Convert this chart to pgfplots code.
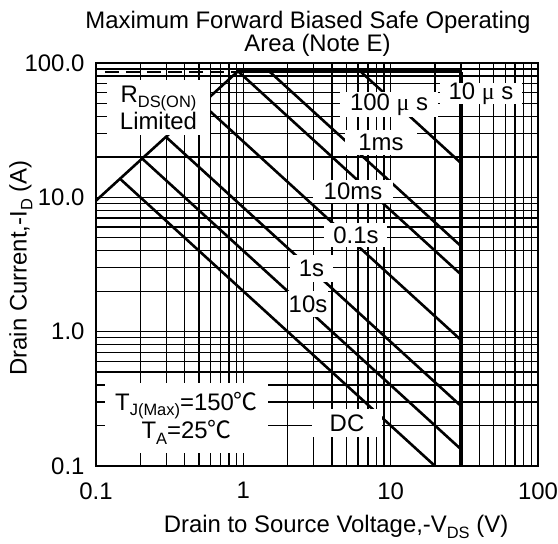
\documentclass[border=0pt]{standalone}
\usepackage{fontspec}
\setmainfont{Liberation Sans}
\newfontfamily\cjk{Noto Sans CJK SC}
\newfontfamily\muf{Liberation Serif}
\usepackage{pgfplots}
\pgfplotsset{compat=1.18}
\newcommand\lf{\fontsize{24}{27}\selectfont}
\newcommand\sub[1]{\raisebox{-0.24em}{\fontsize{16.5}{16.5}\selectfont #1}}
\begin{document}
\begin{tikzpicture}
\useasboundingbox (0,0) rectangle (558bp,544bp);
\begin{axis}[
  at={(96bp,78bp)}, anchor=south west,
  width=442bp, height=403bp, scale only axis,
  xmode=log, ymode=log,
  xmin=0.1, xmax=100, ymin=0.1, ymax=100,
  clip=false,
  axis line style={black, line width=1.4bp},
  grid=both,
  major grid style={black, line width=1.35bp},
  minor grid style={black, line width=1.35bp},
  major tick length=0pt, minor tick length=0pt,
  xtick={0.1,1,10,100}, xticklabels={0.1,1,10,100},
  ytick={0.1,1,10,100}, yticklabels={0.1,1.0,10.0,100.0},
  minor xtick={0.2,0.3,0.4,0.5,0.6,0.7,0.8,0.9,2,3,4,5,6,7,8,9,20,30,40,50,60,70,80,90},
  minor ytick={0.2,0.3,0.4,0.5,0.6,0.7,0.8,0.9,2,3,4,5,6,7,8,9,20,30,40,50,60,70,80,90},
  ticklabel style={font=\lf},
  xticklabel style={yshift=-13bp},
  yticklabel style={xshift=-8bp},
]
% RDS(ON) limit line
\addplot[black, line width=2.6bp] coordinates {(0.1,9.45) (0.91,86)};
% IDM top line
\addplot[black, line width=2.6bp] coordinates {(0.91,86) (30,86)};
\addplot[black, line width=2.4bp, dash pattern=on 14bp off 7bp] coordinates {(0.115,86) (0.91,86)};
% 10 us / VDS max
\addplot[black, line width=3.4bp] coordinates {(30,86) (30,0.1)};
% DC
\addplot[black, line width=2.6bp] coordinates {(0.1455,13.75) (20,0.1)};
% 10s
\addplot[black, line width=2.6bp] coordinates {(0.2057,19.44) (30,0.1333)};
% 1s
\addplot[black, line width=2.6bp] coordinates {(0.298,28.2) (30,0.28)};
% 0.1s
\addplot[black, line width=2.6bp] coordinates {(0.5245,49.6) (30,0.867)};
% 10ms
\addplot[black, line width=2.6bp] coordinates {(0.93,86) (30,2.667)};
% 1ms
\addplot[black, line width=2.6bp] coordinates {(1.512,86) (30,4.333)};
% 100us
\addplot[black, line width=2.6bp] coordinates {(6.28,86) (30,18)};

\tikzset{lab/.style={fill=white, inner sep=0pt, font=\lf, align=center}}
\node[lab, minimum width=103bp, minimum height=55bp] at (rel axis cs:0.1414,0.8896) {R\sub{DS(ON)}\\Limited};
\node[lab, minimum width=98bp, minimum height=25bp] at (rel axis cs:0.6629,0.8970) {100 {\muf μ} s};
\node[lab, minimum width=82bp, minimum height=21bp] at (rel axis cs:0.8710,0.9243) {10 {\muf μ} s};
\node[lab, minimum width=72bp, minimum height=25bp] at (rel axis cs:0.6448,0.8027) {1ms};
\node[lab, minimum width=80bp, minimum height=23bp] at (rel axis cs:0.5814,0.6811) {10ms};
\node[lab, minimum width=63bp, minimum height=24bp] at (rel axis cs:0.5882,0.5732) {0.1s};
\node[lab, minimum width=43bp, minimum height=27bp] at (rel axis cs:0.4875,0.4901) {1s};
\node[lab, minimum width=40bp, minimum height=26bp] at (rel axis cs:0.4796,0.4020) {10s};
\node[lab, minimum width=70bp, minimum height=28bp] at (rel axis cs:0.5679,0.1067) {DC};
\node[lab, minimum width=163bp, minimum height=70bp] at (rel axis cs:0.2048,0.1191)
  {\fontsize{24}{31}\selectfont T\sub{J(Max)}=150{\cjk ℃}\\T\sub{A}=25{\cjk ℃}};

\node[font=\lf] at (rel axis cs:0.4796,1.1017) {Maximum Forward Biased Safe Operating};
\node[font=\lf] at (rel axis cs:0.5011,1.0451) {Area (Note E)};
\node[font=\lf] at (rel axis cs:0.543,-0.152) {Drain to Source Voltage,-V\sub{DS} (V)};
\node[font=\lf, rotate=90] at (rel axis cs:-0.170,0.4913) {Drain Current,-I\sub{D} (A)};
\end{axis}
\end{tikzpicture}
\end{document}
